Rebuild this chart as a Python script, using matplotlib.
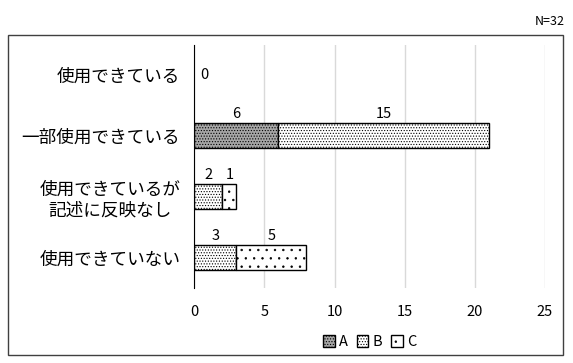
import matplotlib.pyplot as plt
import matplotlib.patches as mpatches
import numpy as np

plt.rcParams['font.family'] = ['Noto Sans CJK JP', 'DejaVu Sans']
plt.rcParams['hatch.linewidth'] = 0.5

categories = ["使用できている", "一部使用できている", "使用できているが\n記述に反映なし", "使用できていない"]
series_names = ["A", "B", "C"]
values_a = [0, 6, 0, 0]
values_b = [0, 15, 2, 3]
values_c = [0, 0, 1, 5]
n_label = "N=32"

styles = {
    "A": dict(facecolor="#a6a6a6", hatch="......"),
    "B": dict(facecolor="#ffffff", hatch="......"),
    "C": dict(facecolor="#ffffff", hatch=".."),
}

fig = plt.figure(figsize=(5.73, 3.63), dpi=100)
ax = fig.add_axes([0.339, 0.207, 0.612, 0.67])

# outer frame
fig.patches.append(mpatches.Rectangle((0.014, 0.022), 0.969, 0.882, transform=fig.transFigure,
                                      fill=False, edgecolor="#404040", linewidth=1.0))
fig.text(0.985, 0.94, n_label, ha="right", va="center", fontsize=9)

y = np.arange(len(categories))
left = np.zeros(len(categories))
for name, vals in zip(series_names, [values_a, values_b, values_c]):
    vals = np.array(vals, dtype=float)
    mask = vals > 0
    ax.barh(y[mask], vals[mask], left=left[mask], height=0.41, edgecolor="black", linewidth=1.0,
            label=name, **styles[name], zorder=3)
    for yi, l, v in zip(y, left, vals):
        if v > 0:
            ax.text(l + v / 2, yi - 0.24, f"{int(v)}", ha="center", va="bottom", fontsize=10.5)
    left += vals

# zero label for the empty row
for yi, tot in zip(y, left):
    if tot == 0:
        ax.text(0.4, yi, "0", ha="left", va="center", fontsize=10.5)

ax.set_xlim(0, 25)
ax.set_xticks(range(0, 26, 5))
ax.set_ylim(len(categories) - 0.5, -0.5)
ax.set_yticks(y)
ax.set_yticklabels(categories, multialignment="center")
ax.tick_params(axis="both", length=0, labelsize=10.5)
ax.tick_params(axis="y", labelsize=12.7, pad=10)
ax.tick_params(axis="x", pad=12)
ax.grid(axis="x", color="#d9d9d9", linewidth=1.0, zorder=0)
for s in ["top", "right", "bottom"]:
    ax.spines[s].set_visible(False)
ax.spines["left"].set_color("black")
ax.spines["left"].set_zorder(4)

ax.legend(loc="upper center", bbox_to_anchor=(0.5, -0.14), ncol=3,
          frameon=False, fontsize=10.5, handlelength=0.8, handleheight=0.8,
          handletextpad=0.3, columnspacing=0.6)

fig.savefig("out.png", dpi=100)
